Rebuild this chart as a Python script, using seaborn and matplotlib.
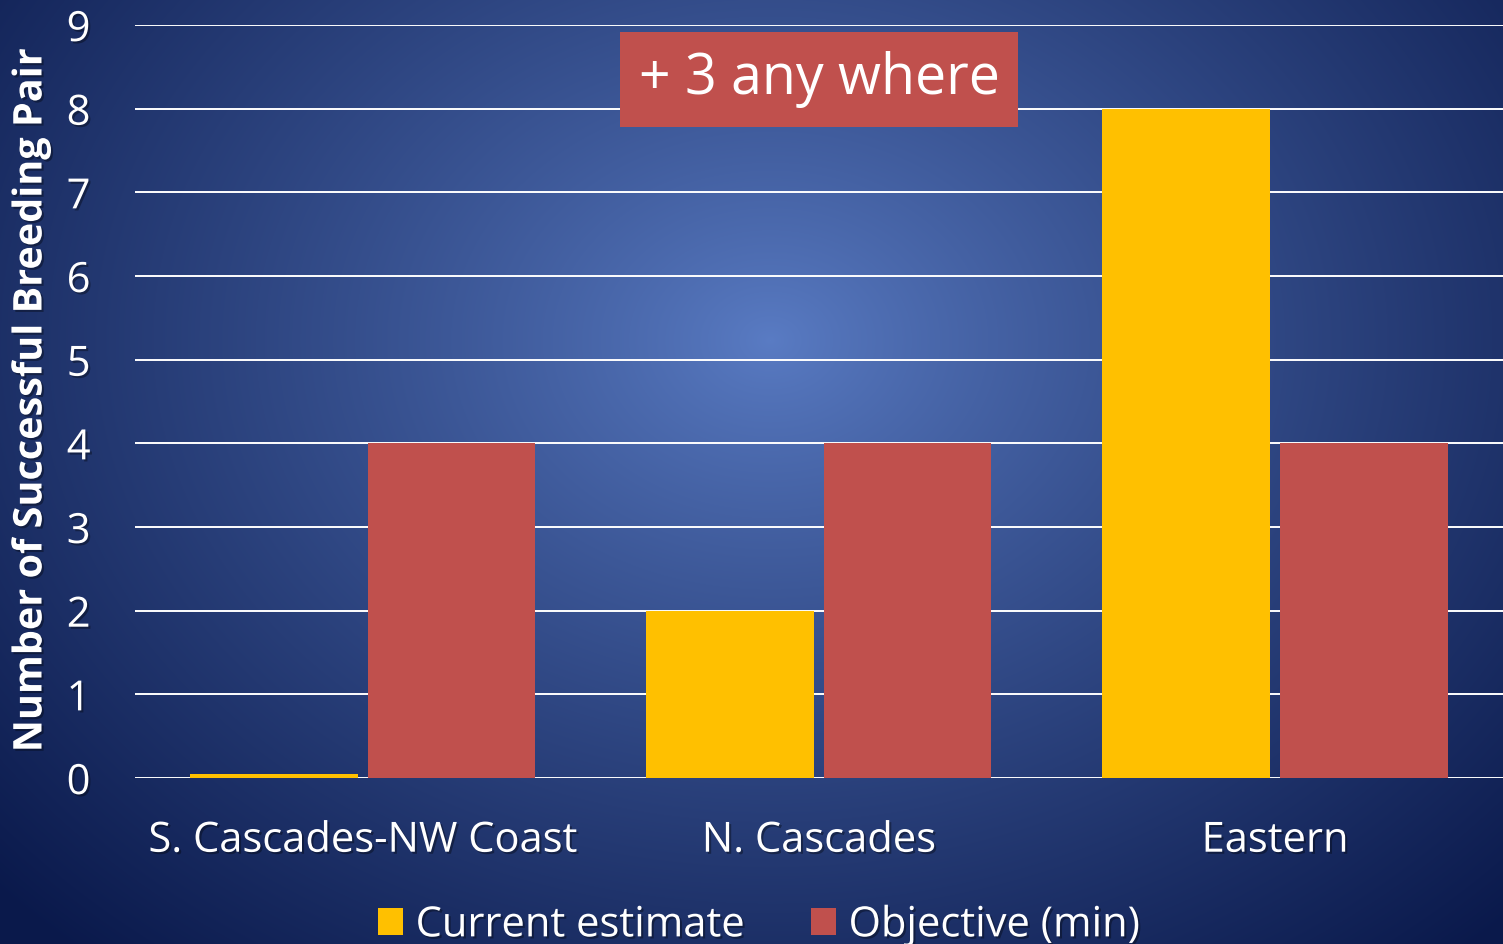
import numpy as np
import pandas as pd
import matplotlib.pyplot as plt
import matplotlib.patheffects as pe
import seaborn as sns

regions = ["S. Cascades-NW Coast", "N. Cascades", "Eastern"]
current_estimate = [0.05, 2, 8]
objective_min = [4, 4, 4]
series_names = ["Current estimate", "Objective (min)"]
y_ticks = [0, 1, 2, 3, 4, 5, 6, 7, 8, 9]
y_label = "Number of Successful Breeding Pair"
note = "+ 3 any where"

df = pd.DataFrame({
    "region": regions * 2,
    "value": current_estimate + objective_min,
    "series": [series_names[0]] * len(regions) + [series_names[1]] * len(regions),
})

sns.set_style("white")
plt.rcParams["font.family"] = ["Open Sans", "DejaVu Sans"]

shadow = [pe.withSimplePatchShadow(offset=(1.5, -1.5), shadow_rgbFace="black", alpha=0.35)]

fig = plt.figure(figsize=(15.03, 9.44), dpi=100)

# radial gradient background
bg = fig.add_axes([0, 0, 1, 1], zorder=0)
yy, xx = np.mgrid[0:944, 0:1503]
r = np.sqrt(((xx - 770) / 1000.0) ** 2 + ((yy - 340) / 780.0) ** 2)
t = np.clip(r / 1.05, 0, 1) ** 0.85
inner = np.array([90, 124, 196]) / 255.0
outer = np.array([10, 25, 75]) / 255.0
img = inner[None, None, :] * (1 - t[..., None]) + outer[None, None, :] * t[..., None]
bg.imshow(img, aspect="auto", extent=[0, 1, 0, 1], origin="upper")
bg.axis("off")

ax = fig.add_axes([0.0898, 0.1758, 0.9102, 0.7977], zorder=1)
ax.patch.set_alpha(0)

sns.barplot(data=df, x="region", y="value", hue="series",
            palette=["#FFC000", "#C0504D"], saturation=1,
            width=0.78, gap=0.06, linewidth=0, edgecolor="none", ax=ax)

ax.set_ylim(0, 9)
ax.set_xlim(-0.5, 2.5)
ax.set_yticks(y_ticks)
ax.yaxis.grid(True, color="white", linewidth=1.4)
ax.set_axisbelow(True)
for s in ax.spines.values():
    s.set_visible(False)
ax.tick_params(axis="y", length=0, pad=32, labelsize=30, labelcolor="white")
ax.tick_params(axis="x", length=0, pad=30, labelsize=30, labelcolor="white")
for lbl in ax.get_yticklabels() + ax.get_xticklabels():
    lbl.set_path_effects(shadow)
ax.set_xlabel("")
ax.set_ylabel("")

fig.text(31 / 1503, 1 - 400 / 944, y_label, rotation=90, ha="center", va="center",
         fontsize=28.5, fontweight="bold", color="white", path_effects=shadow)

ax.text(1.0, 8.35, note, ha="center", va="center", fontsize=40, color="white",
        bbox=dict(boxstyle="square,pad=0.34", facecolor="#C0504D", edgecolor="none"),
        zorder=5)

handles, labels = ax.get_legend_handles_labels()
ax.legend_.remove()
leg = fig.legend(handles, labels, loc="center", bbox_to_anchor=(0.505, 0.02), ncol=2,
                 frameon=False, fontsize=30, handlelength=0.6, handleheight=0.6,
                 columnspacing=1.6, handletextpad=0.3, labelcolor="white")
for txt in leg.get_texts():
    txt.set_path_effects(shadow)

fig.savefig("out.png", dpi=100)
